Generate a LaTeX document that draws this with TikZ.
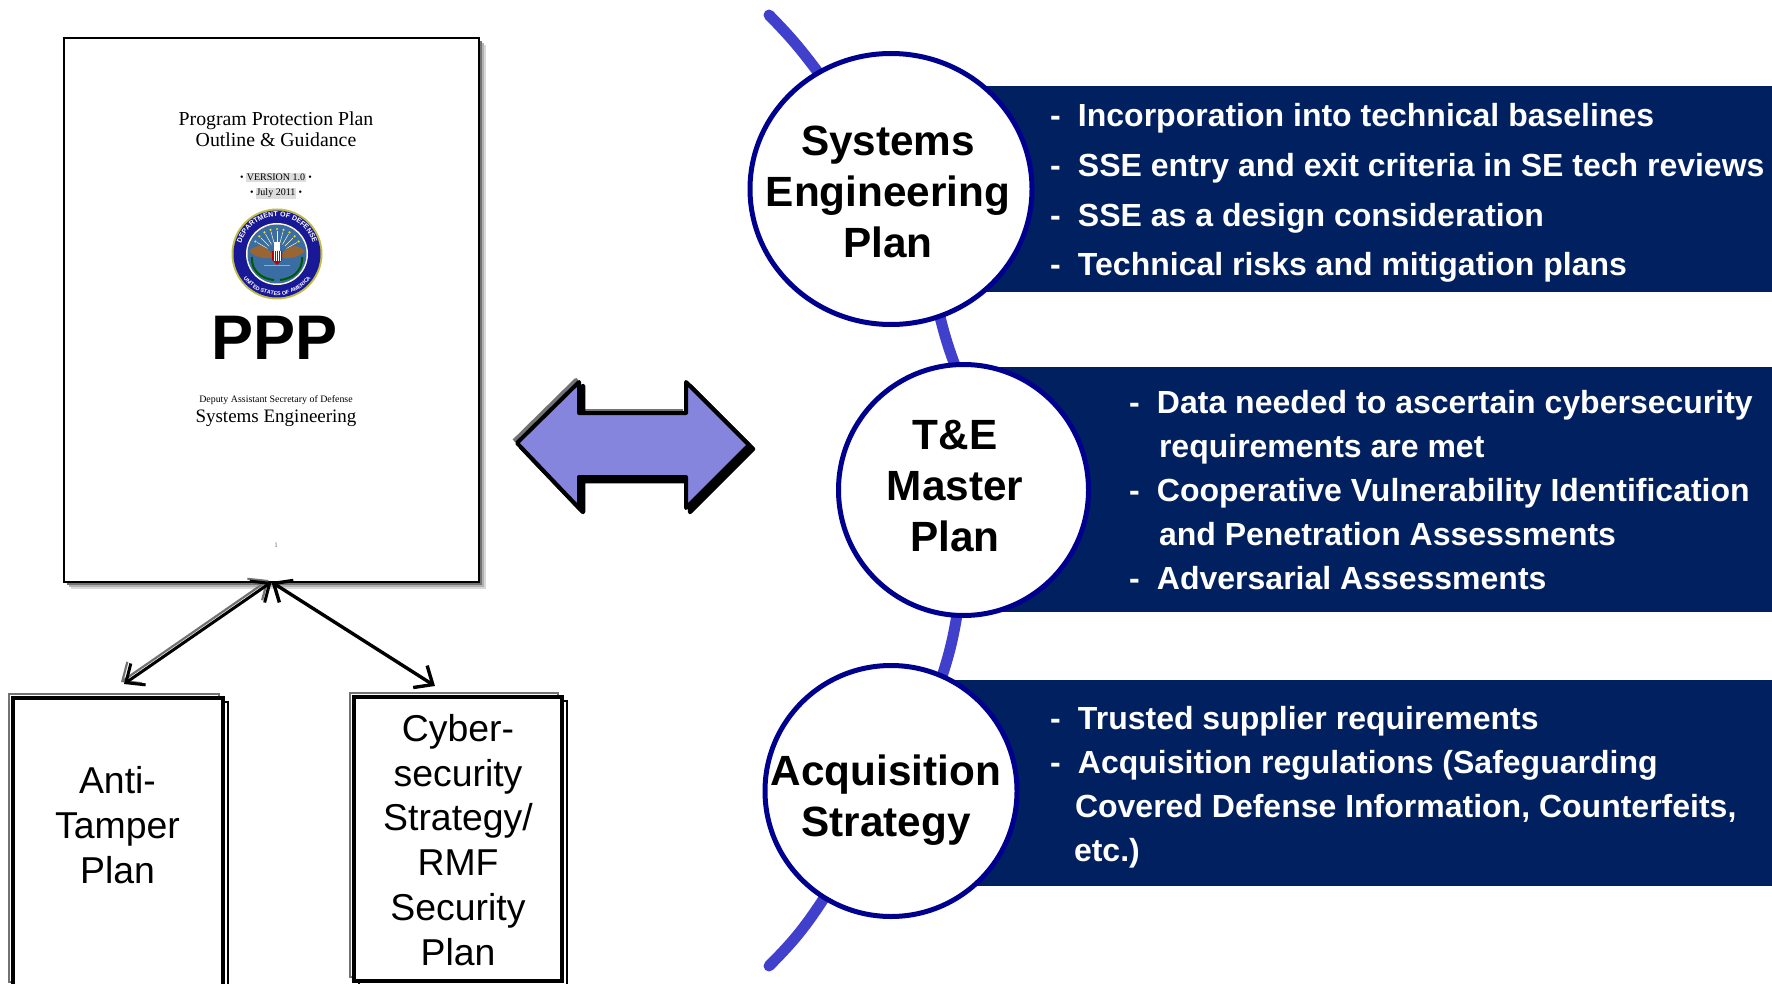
\documentclass[tikz,border=0pt]{standalone}
\usepackage{fontspec}
\setmainfont{Liberation Sans}
\newfontfamily\pagefont{Liberation Serif}
\usetikzlibrary{shapes.geometric,shadows,arrows.meta,decorations.text,backgrounds,calc}
\definecolor{navybar}{HTML}{002060}
\definecolor{ringblue}{HTML}{00008F}
\definecolor{linkblue}{HTML}{4040CC}
\definecolor{bigarrow}{HTML}{8585DE}
\definecolor{versiongray}{HTML}{DDDDDD}
\begin{document}
\begin{tikzpicture}[x=1pt,y=-1pt]
        \tikzstyle{every node}=[inner sep=0pt,outer sep=0pt]
        \tikzstyle{pagebox}=[rectangle,draw,line width=1.6pt,fill=white,minimum width=415pt,minimum height=544pt,
            general shadow={shadow xshift=7pt,shadow yshift=-7pt,fill=black!15},
            general shadow={shadow xshift=5pt,shadow yshift=-5pt,fill=black!30},
            general shadow={shadow xshift=3pt,shadow yshift=-3pt,fill=black!55}]
        \tikzstyle{plan}=[rectangle,draw,line width=4pt,fill=white,
            general shadow={shadow xshift=5pt,shadow yshift=-4pt,draw=black,fill=white,line width=1.4pt},
            general shadow={shadow xshift=-4pt,shadow yshift=4pt,draw=black!55,fill=white,line width=2pt}]
        \tikzstyle{bar}=[rectangle,fill=navybar,anchor=north east]
        \tikzstyle{topic}=[ellipse,draw=ringblue,line width=5pt,fill=white]
        \tikzstyle{topiclabel}=[align=center,font=\fontsize{42.3}{51.3}\selectfont\bfseries]
        \tikzstyle{planlabel}=[align=center,font=\fontsize{37.4}{44.8}\selectfont]
        \tikzstyle{points}=[anchor=west,align=left,text=white]
        \tikzstyle{link}=[draw=linkblue,line width=11pt,line cap=round]
        \tikzstyle{pageline}=[font=\pagefont]
        \tikzstyle{doublehead}=[<->,>={Straight Barb[length=15pt,width=26pt]}]
        \useasboundingbox (0,0) rectangle (1772,984);

        % document on the left
        \node[pagebox] (page) at (271.5,310) {};
        \node[pageline,align=center,font=\pagefont\fontsize{19.8}{21}\selectfont] (title) at (276,129) {Program Protection Plan\\Outline \& Guidance};
        \setlength{\fboxsep}{0.6pt}
        \node[pageline,font=\pagefont\fontsize{10}{12}\selectfont] (version) at (276,177.5) {• \colorbox{versiongray}{VERSION 1.0} •};
        \node[pageline,font=\pagefont\fontsize{10}{12}\selectfont] (date) at (276,193.5) {• \colorbox{versiongray}{July 2011} •};
        \node[font=\fontsize{63}{63}\selectfont\bfseries] (ppp) at (274.5,338) {PPP};
        \node[pageline,font=\pagefont\fontsize{9.9}{12}\selectfont] (deputy) at (276,400) {Deputy Assistant Secretary of Defense};
        \node[pageline,font=\pagefont\fontsize{19}{20}\selectfont] (syseng) at (276,418) {Systems Engineering};
        \node[pageline,text=black!60,font=\pagefont\fontsize{7}{8}\selectfont] (pagenum) at (276,545) {1};

        % seal
        \begin{scope}[shift={(277,254)},y=1pt]
            \fill[yellow!70!black!90] (0,0) circle (45.5);
            \fill[blue!55!black!90] (0,0) circle (43.5);
            \fill[white!85!yellow] (0,0) circle (31);
            \fill[cyan!55!blue!75!black] (0,0) circle (29.5);
            \path[decorate,decoration={text along path,text align=center,
                text={|\fontsize{7}{8}\selectfont\bfseries\color{white}|DEPARTMENT OF DEFENSE}}]
                (-37,-6) arc[start angle=189,end angle=-9,radius=37.5];
            \path[decorate,decoration={text along path,text align=center,
                text={|\fontsize{5.4}{6}\selectfont\bfseries\color{white}|UNITED STATES OF AMERICA}}]
                (-38,-16) arc[start angle=203,end angle=337,radius=41.5];
            \foreach \a in {30,45,...,150} {
                \draw[white!70!yellow,line width=.5pt] (\a:11) -- (\a:23);
                \fill[yellow!90!black] (\a:25) circle (1.2);
            }
            \fill[brown!80!black] (-28,3) .. controls (-18,12) and (-10,8) .. (-3,-3) .. controls (-12,-6) and (-22,-3) .. (-28,3) -- cycle;
            \fill[brown!80!black] (28,3) .. controls (18,12) and (10,8) .. (3,-3) .. controls (12,-6) and (22,-3) .. (28,3) -- cycle;
            \draw[green!35!black,line width=2pt] (-25,-3) .. controls (-26,-18) and (-14,-25) .. (-3,-26);
            \draw[green!35!black,line width=2pt] (25,-3) .. controls (26,-18) and (14,-25) .. (3,-26);
            \fill[white] (-3,2) rectangle (3,12);
            \fill[blue!60!black] (-5,-1) rectangle (5,3);
            \fill[red!75!black] (-5,3) -- (5,3) -- (5,-6) -- (0,-11) -- (-5,-6) -- cycle;
            \foreach \sx in {-3,-1,1,3} \draw[white,line width=.7pt] (\sx,3) -- (\sx,-7);
            \draw[yellow!70!black,line width=1pt] (-13,-12) -- (13,-12);
            \draw[white,line width=2pt] (-1,3) -- (0,12);
        \end{scope}

        % plans under the document
        \node[plan,minimum width=210pt,minimum height=288pt] (anti) at (118,842) {};
        \node[planlabel] (antilabel) at (117.5,825) {Anti-\\Tamper\\Plan};
        \node[plan,minimum width=208pt,minimum height=284pt] (cyber) at (458,839) {};
        \node[planlabel] (cyberlabel) at (458,840) {Cyber-\\security\\Strategy/\\RMF\\Security\\Plan};
        \coordinate (antitip) at (124,684);
        \coordinate (cybertip) at (435,686);
        \draw[doublehead,draw=black!55,line width=2.2pt] ([shift={(-3,-2)}]page.south) -- ([shift={(-3,-2)}]antitip);
        \draw[doublehead,line width=3pt] (page.south) -- (antitip);
        \draw[doublehead,line width=3.4pt] (page.south) -- (cybertip);

        % big arrow in the middle
        \draw[black!55,line width=4pt,line join=round,shift={(-3,-2)}] (517,443) -- (579,382) -- (579,413) -- (686,413);
        \draw[black,line width=4.5pt,line join=round,fill=black,shift={(4,4)}] (517,443) -- (579,382) -- (579,413) -- (686,413) -- (686,382) -- (749,445) -- (686,508) -- (686,477) -- (579,477) -- (579,508) -- cycle;
        \fill[white] (583,411) rectangle (684,416);
        \draw[black,line width=4pt,line join=round,fill=bigarrow] (517,443) -- (579,382) -- (579,413) -- (686,413) -- (686,382) -- (749,445) -- (686,508) -- (686,477) -- (579,477) -- (579,508) -- cycle;

        % bars
        \node[bar,minimum width=872pt,minimum height=206pt] (sepbar) at (1772,86) {};
        \node[bar,minimum width=792pt,minimum height=245pt] (tembar) at (1772,367) {};
        \node[bar,minimum width=872pt,minimum height=206pt] (acqbar) at (1772,680) {};

        % topics
        \node[topic,minimum width=282pt,minimum height=271pt] (sep) at (891,189) {};
        \node[topic,minimum width=250pt,minimum height=251pt] (tem) at (963.5,490) {};
        \node[topic,minimum width=252pt,minimum height=251pt] (acq) at (891,791) {};
        \node[topiclabel] (seplabel) at (888,192) {Systems\\Engineering\\Plan};
        \node[topiclabel] (temlabel) at (955,486) {T\&E\\Master\\Plan};
        \node[topiclabel] (acqlabel) at (886,800.5) {Acquisition\\Strategy};

        \begin{pgfonlayer}{background}
            \coordinate (linktop) at (769,15);
            \coordinate (linkend) at (769,966);
            \draw[link] (linktop) to[bend left=4] (sep.122);
            \draw[link] (sep.291) to[bend right=3] (tem.94);
            \draw[link] (tem.267) to[bend left=4] (acq.66);
            \draw[link] (acq.238) to[bend left=6] (linkend);
        \end{pgfonlayer}

        % points in the bars
        \node[points,font=\fontsize{32}{49.7}\selectfont\bfseries] (seppoints) at (1050,193) {%
            \makebox[28pt][l]{-}Incorporation into technical baselines\\
            \makebox[28pt][l]{-}SSE entry and exit criteria in SE tech reviews\\
            \makebox[28pt][l]{-}SSE as a design consideration\\
            \makebox[28pt][l]{-}Technical risks and mitigation plans};
        \node[points,font=\fontsize{32}{44}\selectfont\bfseries] (tempoints) at (1129,490) {%
            \makebox[28pt][l]{-}Data needed to ascertain cybersecurity\\
            \hspace*{30pt}requirements are met\\
            \makebox[28pt][l]{-}Cooperative Vulnerability Identification\\
            \hspace*{30pt}and Penetration Assessments\\
            \makebox[28pt][l]{-}Adversarial Assessments};
        \node[points,font=\fontsize{32}{44}\selectfont\bfseries] (acqpoints) at (1050,787.5) {%
            \makebox[28pt][l]{-}Trusted supplier requirements\\
            \makebox[28pt][l]{-}Acquisition regulations (Safeguarding\\
            \hspace*{25pt}Covered Defense Information, Counterfeits,\\
            \hspace*{24pt}etc.)};
\end{tikzpicture}
\end{document}
